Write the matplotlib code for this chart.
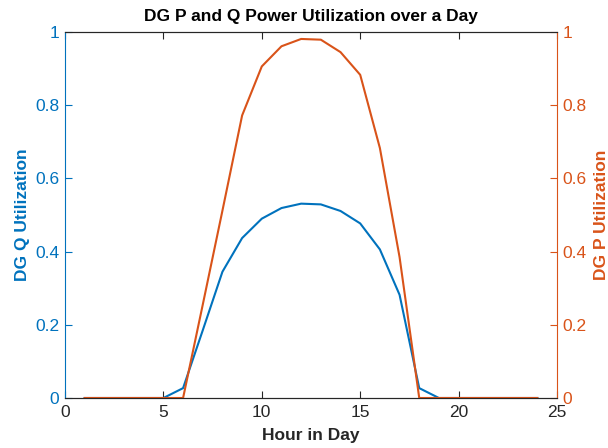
import matplotlib
matplotlib.use("Agg")
import matplotlib.pyplot as plt

plt.rcParams['font.family'] = ['Liberation Sans', 'DejaVu Sans']

hours = list(range(1, 25))
q_util = [0, 0, 0, 0, 0, 0.027, 0.185, 0.345, 0.437, 0.490, 0.519, 0.531,
          0.529, 0.511, 0.477, 0.406, 0.282, 0.027, 0, 0, 0, 0, 0, 0]
p_util = [0, 0, 0, 0, 0, 0, 0.255, 0.512, 0.772, 0.906, 0.961, 0.981,
          0.979, 0.945, 0.883, 0.683, 0.385, 0, 0, 0, 0, 0, 0, 0]

blue = '#0072BD'
orange = '#D95319'
dark = '#262626'

fig = plt.figure(figsize=(6.08, 4.48), dpi=100)
ax = fig.add_axes([65/608, 50/448, (557-65)/608, (398-32)/448])
ax2 = ax.twinx()

ax.plot(hours, q_util, color=blue, lw=1.5)
ax2.plot(hours, p_util, color=orange, lw=1.5)

ax.set_xlim(0, 25)
ax.set_ylim(0, 1)
ax2.set_ylim(0, 1)
ax.set_xticks([0, 5, 10, 15, 20, 25])
ax.set_yticks([0, 0.2, 0.4, 0.6, 0.8, 1])
ax.set_yticklabels(['0', '0.2', '0.4', '0.6', '0.8', '1'])
ax2.set_yticks([0, 0.2, 0.4, 0.6, 0.8, 1])
ax2.set_yticklabels(['0', '0.2', '0.4', '0.6', '0.8', '1'])

fs = 12.5
ax.tick_params(axis='x', direction='in', top=True, length=5, colors=dark, labelsize=fs, width=0.8, pad=5)
ax.tick_params(axis='y', direction='in', length=5, colors=blue, labelsize=fs, width=0.8, pad=4)
ax2.tick_params(axis='y', direction='in', length=5, colors=orange, labelsize=fs, width=0.8, pad=4)

for a in (ax, ax2):
    a.spines['top'].set_color(dark)
    a.spines['bottom'].set_color(dark)
    a.spines['left'].set_color(blue)
    a.spines['right'].set_color(orange)
ax2.spines['left'].set_visible(False)
ax.spines['right'].set_visible(False)

ax.set_xlabel('Hour in Day', fontsize=fs, fontweight='bold', color=dark, labelpad=6)
ax.set_ylabel('DG Q Utilization', fontsize=fs, fontweight='bold', color=blue, labelpad=4)
ax2.set_ylabel('DG P Utilization', fontsize=fs, fontweight='bold', color=orange,
               rotation=90, labelpad=5)
ax.set_title('DG P and Q Power Utilization over a Day', fontsize=fs, fontweight='bold',
             color='black', pad=8)

fig.savefig('out.png', dpi=100)
